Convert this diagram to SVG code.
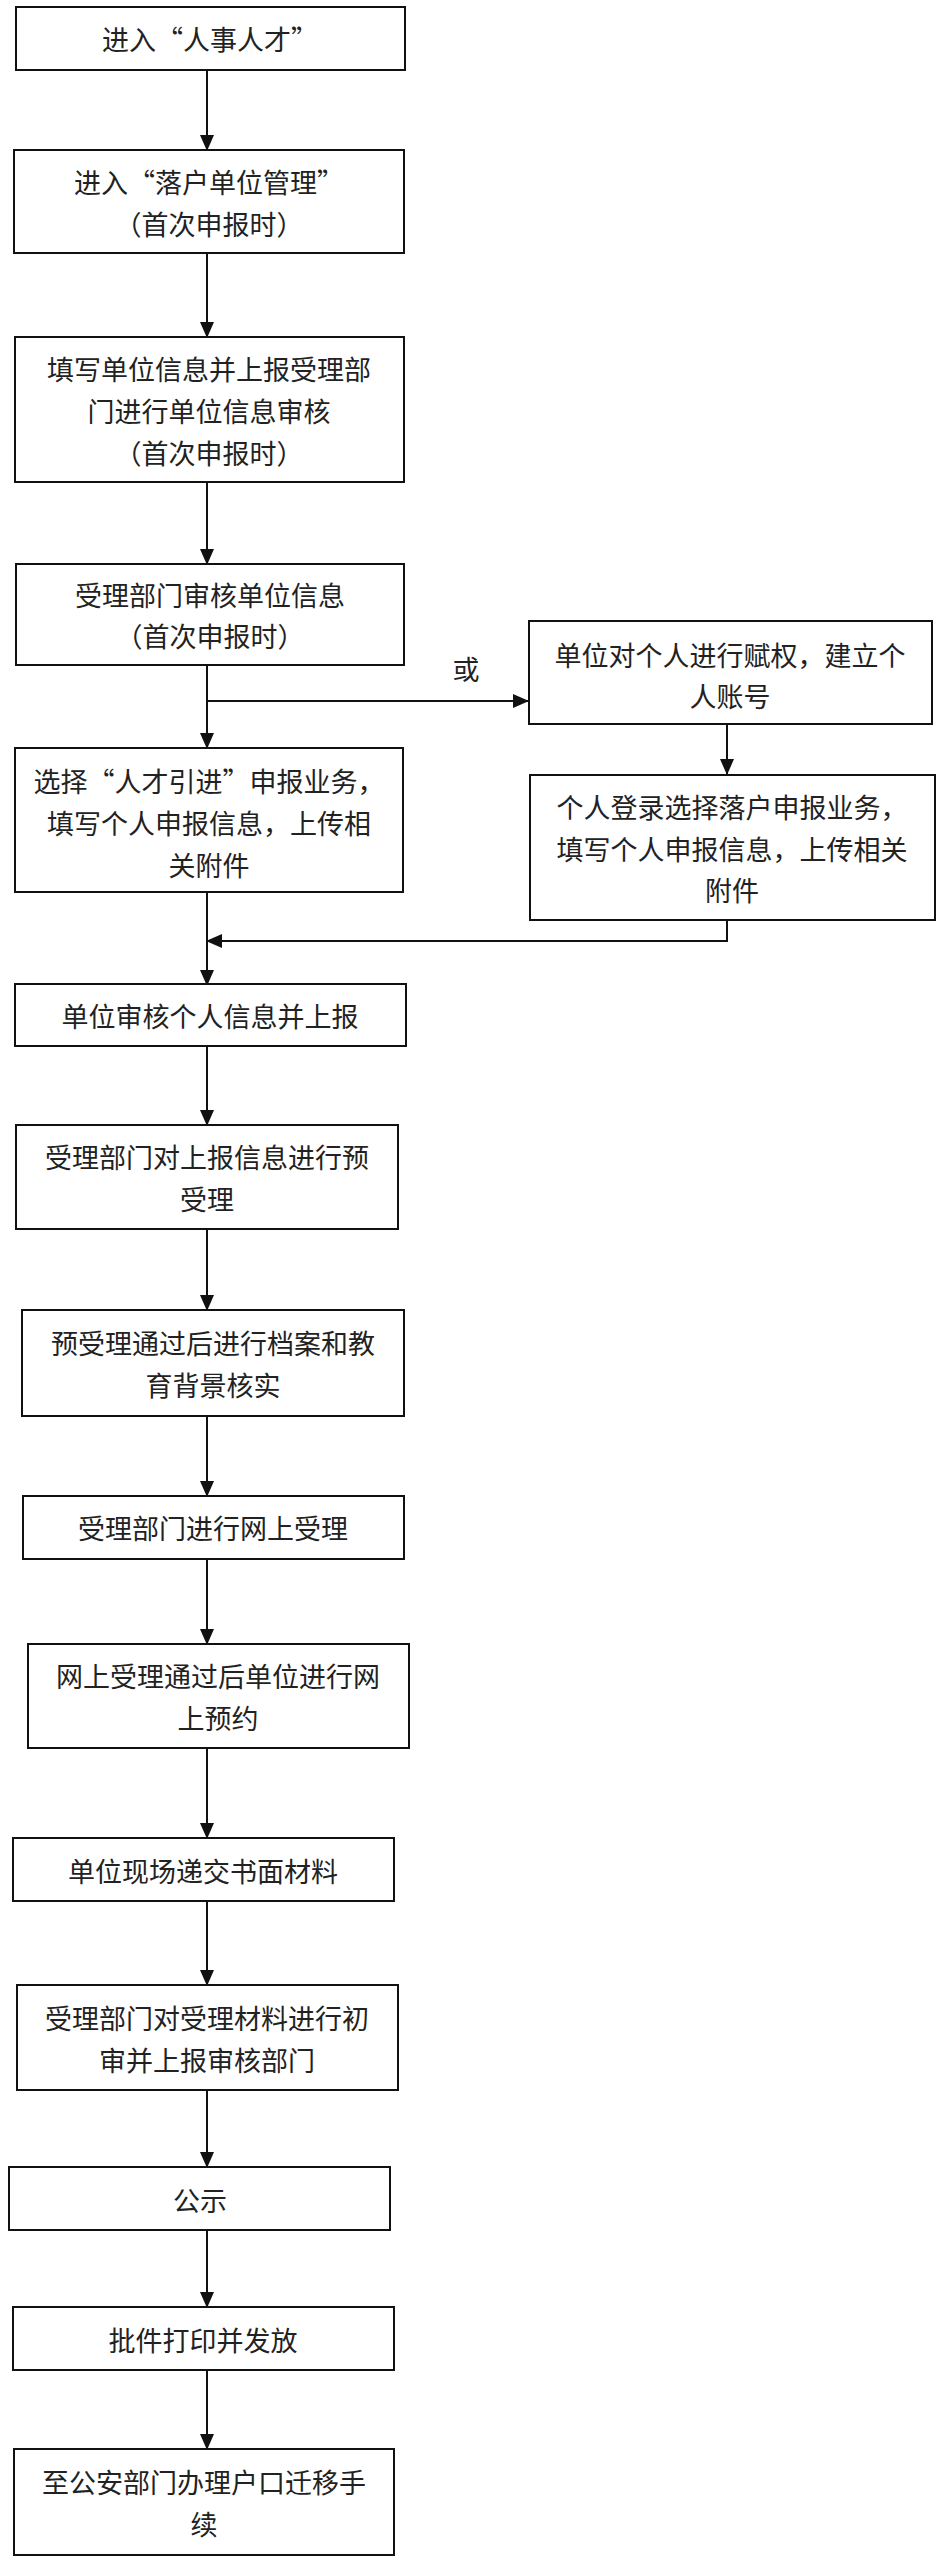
<svg xmlns="http://www.w3.org/2000/svg" width="948" height="2562" viewBox="0 0 948 2562">
<style>
rect{fill:#fff;stroke:#111;stroke-width:2}
text{font-family:"Noto Sans CJK SC","Liberation Sans",sans-serif;font-size:27px;fill:#222;text-anchor:middle;dominant-baseline:central}
.c{stroke:#111;stroke-width:2;fill:none}
</style>
<defs><marker id="a" markerWidth="16" markerHeight="14" refX="15" refY="7" orient="auto" markerUnits="userSpaceOnUse"><path d="M0,0L16,7L0,14Z" fill="#111"/></marker></defs>
<rect width="948" height="2562" style="fill:#fff;stroke:none"/>
<g id="connectors">
<path class="c" d="M207,70V150" marker-end="url(#a)"/>
<path class="c" d="M207,253V337" marker-end="url(#a)"/>
<path class="c" d="M207,482V564" marker-end="url(#a)"/>
<path class="c" d="M207,665V748" marker-end="url(#a)"/>
<path class="c" d="M207,701H528" marker-end="url(#a)"/>
<path class="c" d="M727,724V774" marker-end="url(#a)"/>
<path class="c" d="M727,920V941H207" marker-end="url(#a)"/>
<path class="c" d="M207,892V985" marker-end="url(#a)"/>
<path class="c" d="M207,1046V1125" marker-end="url(#a)"/>
<path class="c" d="M207,1229V1310" marker-end="url(#a)"/>
<path class="c" d="M207,1416V1496" marker-end="url(#a)"/>
<path class="c" d="M207,1559V1644" marker-end="url(#a)"/>
<path class="c" d="M207,1748V1838" marker-end="url(#a)"/>
<path class="c" d="M207,1901V1985" marker-end="url(#a)"/>
<path class="c" d="M207,2090V2167" marker-end="url(#a)"/>
<path class="c" d="M207,2230V2307" marker-end="url(#a)"/>
<path class="c" d="M207,2370V2449" marker-end="url(#a)"/>
<text x="466" y="668">或</text>
</g>
<g id="n1"><rect x="16" y="7" width="389" height="63"/><text x="210" y="38">进入“人事人才”</text></g>
<g id="n2"><rect x="14" y="150" width="390" height="103"/><text x="209" y="181">进入“落户单位管理”</text><text x="209" y="223">（首次申报时）</text></g>
<g id="n3"><rect x="15" y="337" width="389" height="145"/><text x="209" y="368">填写单位信息并上报受理部</text><text x="209" y="410">门进行单位信息审核</text><text x="209" y="452">（首次申报时）</text></g>
<g id="n4"><rect x="16" y="564" width="388" height="101"/><text x="210" y="594">受理部门审核单位信息</text><text x="210" y="635">（首次申报时）</text></g>
<g id="r1"><rect x="529" y="621" width="403" height="103"/><text x="730" y="654">单位对个人进行赋权，建立个</text><text x="730" y="695">人账号</text></g>
<g id="r2"><rect x="530" y="775" width="405" height="145"/><text x="732" y="806">个人登录选择落户申报业务，</text><text x="732" y="848">填写个人申报信息，上传相关</text><text x="732" y="889">附件</text></g>
<g id="n5"><rect x="15" y="748" width="388" height="144"/><text x="209" y="780">选择“人才引进”申报业务，</text><text x="209" y="822">填写个人申报信息，上传相</text><text x="209" y="864">关附件</text></g>
<g id="n6"><rect x="15" y="984" width="391" height="62"/><text x="210" y="1015">单位审核个人信息并上报</text></g>
<g id="n7"><rect x="16" y="1125" width="382" height="104"/><text x="207" y="1156">受理部门对上报信息进行预</text><text x="207" y="1198">受理</text></g>
<g id="n8"><rect x="22" y="1310" width="382" height="106"/><text x="213" y="1342">预受理通过后进行档案和教</text><text x="213" y="1384">育背景核实</text></g>
<g id="n9"><rect x="23" y="1496" width="381" height="63"/><text x="213" y="1527">受理部门进行网上受理</text></g>
<g id="n10"><rect x="28" y="1644" width="381" height="104"/><text x="218" y="1675">网上受理通过后单位进行网</text><text x="218" y="1717">上预约</text></g>
<g id="n11"><rect x="13" y="1838" width="381" height="63"/><text x="203" y="1870">单位现场递交书面材料</text></g>
<g id="n12"><rect x="17" y="1985" width="381" height="105"/><text x="207" y="2017">受理部门对受理材料进行初</text><text x="207" y="2059">审并上报审核部门</text></g>
<g id="n13"><rect x="9" y="2167" width="381" height="63"/><text x="200" y="2199">公示</text></g>
<g id="n14"><rect x="13" y="2307" width="381" height="63"/><text x="203" y="2339">批件打印并发放</text></g>
<g id="n15"><rect x="14" y="2449" width="380" height="106"/><text x="204" y="2481">至公安部门办理户口迁移手</text><text x="204" y="2523">续</text></g>
</svg>
